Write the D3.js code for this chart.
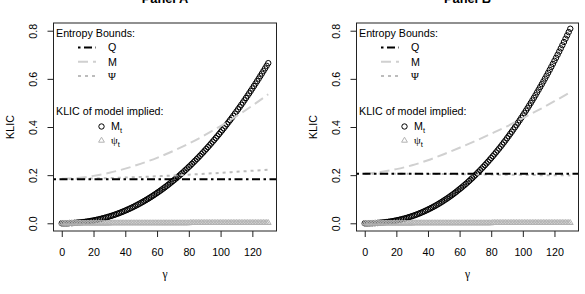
<!DOCTYPE html>
<html><head><meta charset="utf-8">
<script src="https://cdn.jsdelivr.net/npm/d3@7"></script>
<style>body{margin:0;background:#fff}svg{display:block}</style>
</head><body>
<svg id="chart" width="585" height="294"></svg>
<script>
// ---------- data ----------
const gamma = [0,1,2,3,4,5,6,7,8,9,10,11,12,13,14,15,16,17,18,19,20,21,22,23,24,25,26,27,28,29,30,
31,32,33,34,35,36,37,38,39,40,41,42,43,44,45,46,47,48,49,50,51,52,53,54,55,56,57,58,59,60,
61,62,63,64,65,66,67,68,69,70,71,72,73,74,75,76,77,78,79,80,81,82,83,84,85,86,87,88,89,90,
91,92,93,94,95,96,97,98,99,100,101,102,103,104,105,106,107,108,109,110,111,112,113,114,115,116,117,118,119,120,
121,122,123,124,125,126,127,128,129,130];

const klicM_A = [0,0,0,0,0,0.001,0.001,0.001,0.002,0.002,0.003,
0.0033,0.0039,0.0047,0.0055,0.0064,0.0073,0.0084,0.0095,0.0106,0.0119,
0.0132,0.0146,0.0160,0.0176,0.0192,0.0209,0.0226,0.0245,0.0264,0.0284,
0.0305,0.0326,0.0348,0.0372,0.0396,0.0420,0.0446,0.0472,0.0500,0.0528,
0.0556,0.0586,0.0616,0.0647,0.0679,0.0712,0.0746,0.0781,0.0816,0.0853,
0.0890,0.0927,0.0966,0.1005,0.1046,0.1087,0.1130,0.1173,0.1217,0.1262,
0.1307,0.1354,0.1401,0.1449,0.1498,0.1548,0.1599,0.1651,0.1704,0.1758,
0.1812,0.1867,0.1923,0.1980,0.2039,0.2097,0.2157,0.2218,0.2280,0.2342,
0.2405,0.2470,0.2535,0.2601,0.2668,0.2736,0.2804,0.2875,0.2945,0.3017,
0.3090,0.3163,0.3237,0.3313,0.3389,0.3465,0.3543,0.3623,0.3703,0.3784,
0.3865,0.3948,0.4031,0.4117,0.4202,0.4288,0.4376,0.4464,0.4554,0.4644,
0.4735,0.4827,0.4920,0.5014,0.5109,0.5206,0.5303,0.5401,0.5500,0.5600,
0.5701,0.5802,0.5905,0.6009,0.6114,0.6219,0.6326,0.6434,0.6542,0.6652];

const klicM_B = [0,0,0,0.0002,0.0003,0.0005,0.0008,0.0011,0.0015,0.0020,0.0025,
0.0031,0.0037,0.0045,0.0053,0.0062,0.0072,0.0083,0.0094,0.0106,0.0120,
0.0134,0.0148,0.0163,0.0180,0.0197,0.0216,0.0234,0.0255,0.0276,0.0298,
0.0321,0.0344,0.0368,0.0395,0.0422,0.0449,0.0478,0.0507,0.0539,0.0570,
0.0602,0.0636,0.0670,0.0705,0.0741,0.0779,0.0818,0.0858,0.0899,0.0942,
0.0985,0.1027,0.1072,0.1118,0.1165,0.1213,0.1263,0.1314,0.1367,0.1419,
0.1472,0.1527,0.1583,0.1639,0.1697,0.1757,0.1818,0.1879,0.1943,0.2008,
0.2073,0.2138,0.2206,0.2273,0.2345,0.2414,0.2487,0.2560,0.2636,0.2711,
0.2787,0.2865,0.2943,0.3025,0.3106,0.3187,0.3272,0.3358,0.3443,0.3533,
0.3621,0.3713,0.3803,0.3896,0.3989,0.4082,0.4181,0.4279,0.4377,0.4478,
0.4580,0.4682,0.4785,0.4891,0.4996,0.5103,0.5212,0.5321,0.5437,0.5549,
0.5663,0.5778,0.5894,0.6012,0.6131,0.6252,0.6374,0.6497,0.6622,0.6750,
0.6875,0.7003,0.7133,0.7265,0.7398,0.7531,0.7667,0.7804,0.7942,0.8082];

const klicPsi_A = [0,0,0,0,0,0,0,0,0,0,0,
0,0,0,0,0,0,0,0,0,0,
0,0,0,0,0,0,0,0,0,0,
0.001,0.001,0.001,0.001,0.001,0.001,0.001,0.001,0.001,0.001,
0.001,0.001,0.001,0.001,0.001,0.001,0.001,0.001,0.001,0.001,
0.001,0.001,0.001,0.001,0.001,0.001,0.001,0.001,0.001,0.001,
0.001,0.001,0.001,0.001,0.001,0.001,0.001,0.001,0.001,0.001,
0.001,0.001,0.001,0.001,0.001,0.001,0.001,0.001,0.001,0.001,
0.002,0.002,0.002,0.002,0.002,0.002,0.002,0.002,0.002,0.002,
0.002,0.002,0.002,0.002,0.002,0.002,0.002,0.002,0.002,0.002,
0.002,0.002,0.002,0.002,0.002,0.002,0.002,0.002,0.002,0.002,
0.002,0.002,0.002,0.002,0.002,0.002,0.002,0.002,0.002,0.002,
0.002,0.002,0.002,0.002,0.002,0.002,0.002,0.002,0.002,0.002];

const klicPsi_B = [0,0,0,0,0,0,0,0,0,0,0,
0,0,0,0,0,0,0,0,0,0,
0,0,0,0,0,0,0,0,0,0,
0.001,0.001,0.001,0.001,0.001,0.001,0.001,0.001,0.001,0.001,
0.001,0.001,0.001,0.001,0.001,0.001,0.001,0.001,0.001,0.001,
0.001,0.001,0.001,0.001,0.001,0.001,0.001,0.001,0.001,0.001,
0.001,0.001,0.001,0.001,0.001,0.001,0.001,0.001,0.001,0.001,
0.001,0.001,0.001,0.001,0.001,0.001,0.001,0.001,0.001,0.001,
0.002,0.002,0.002,0.002,0.002,0.002,0.002,0.002,0.002,0.002,
0.002,0.002,0.002,0.002,0.002,0.002,0.002,0.002,0.002,0.002,
0.002,0.002,0.002,0.002,0.002,0.002,0.002,0.002,0.002,0.002,
0.002,0.002,0.002,0.002,0.002,0.002,0.002,0.002,0.002,0.002,
0.002,0.002,0.002,0.002,0.002,0.002,0.002,0.002,0.002,0.002];

const lineGamma  = [0,10,20,30,40,50,60,70,80,90,100,110,120,130];
const boundM_A   = [0.185,0.1885,0.197,0.210,0.227,0.248,0.272,0.300,0.331,0.366,0.404,0.445,0.489,0.536];
const boundPsi_A = [0.184,0.1846,0.186,0.1877,0.1899,0.1925,0.1953,0.1985,0.2019,0.2057,0.2096,0.2139,0.2183,0.223];
const boundM_B   = [0.206,0.213,0.225,0.241,0.262,0.287,0.314,0.342,0.372,0.403,0.437,0.471,0.507,0.545];
const boundPsi_B = [0.206,0.206,0.2058,0.2055,0.205,0.2045,0.204,0.203,0.2025,0.2015,0.201,0.200,0.1995,0.199];
const boundQ_A = 0.183;
const boundQ_B = 0.206;

const xTicks = [0,20,40,60,80,100,120];
const yTicks = [0,0.2,0.4,0.6,0.8];
const panelTitles = ["Panel A","Panel B"];

// ---------- drawing ----------
const svg = d3.select("#chart");
svg.append("rect").attr("width",585).attr("height",294).attr("fill","#fff");
const SANS = "'Liberation Sans', Arial, Helvetica, sans-serif";
const SERIF = "'Liberation Serif', 'DejaVu Serif', serif";
const FS = 10.7;

const panels = [
  {title:panelTitles[0], left:53.5, right:276.5, q:boundQ_A, m:boundM_A, psi:boundPsi_A, mt:klicM_A, pt:klicPsi_A, lx:0},
  {title:panelTitles[1], left:356.5, right:578.5, q:boundQ_B, m:boundM_B, psi:boundPsi_B, mt:klicM_B, pt:klicPsi_B, lx:303}
];
const plotTop = 23, plotBottom = 231;

const QDASH = "2.5,3.5,8,3.5", MDASH = "10,5", PDASH = "3,4";
const MCOL = "#d0d0d0", PCOL = "#bcbcbc", TCOL = "#b3b3b3";
const triPath = "M0,-3.3L2.9,1.7L-2.9,1.7Z";

panels.forEach(p => {
  const x = d3.scaleLinear().domain([-5.2,135.2]).range([p.left,p.right]);
  const y = d3.scaleLinear().domain([-0.032,0.832]).range([plotBottom,plotTop]);
  const g = svg.append("g");

  g.append("g").selectAll("circle").data(gamma).join("circle")
    .attr("cx", d => x(d)).attr("cy", (d,i) => y(p.mt[i])).attr("r", 2.7)
    .attr("fill","none").attr("stroke","#000").attr("stroke-width",1);
  g.append("g").selectAll("path").data(gamma).join("path")
    .attr("d", triPath)
    .attr("transform", (d,i) => `translate(${x(d)},${y(p.pt[i])})`)
    .attr("fill","none").attr("stroke",TCOL).attr("stroke-width",1);

  const line = d3.line().x((d,i)=>x(lineGamma[i])).y(d=>y(d)).curve(d3.curveMonotoneX);
  g.append("path").attr("d", line(p.m)).attr("fill","none").attr("stroke",MCOL)
    .attr("stroke-width",2).attr("stroke-dasharray",MDASH);
  g.append("path").attr("d", line(p.psi)).attr("fill","none").attr("stroke",PCOL)
    .attr("stroke-width",2).attr("stroke-dasharray",PDASH);
  g.append("line").attr("x1",p.left).attr("x2",p.right).attr("y1",y(p.q)).attr("y2",y(p.q))
    .attr("stroke","#000").attr("stroke-width",2).attr("stroke-dasharray",QDASH);

  g.append("rect").attr("x",p.left).attr("y",plotTop).attr("width",p.right-p.left).attr("height",plotBottom-plotTop)
    .attr("fill","none").attr("stroke","#222").attr("stroke-width",1);

  const xa = g.append("g").attr("transform",`translate(0,${plotBottom})`)
    .call(d3.axisBottom(x).tickValues(xTicks).tickSize(6).tickFormat(d3.format("d")));
  xa.select(".domain").remove();
  xa.selectAll("line").attr("stroke","#222");
  xa.selectAll("text").attr("y",24.5).attr("dy",0).attr("font-size",FS).attr("font-family",SANS).attr("fill","#000");

  const ya = g.append("g").attr("transform",`translate(${p.left},0)`)
    .call(d3.axisLeft(y).tickValues(yTicks).tickSize(6).tickFormat(d3.format(".1f")));
  ya.select(".domain").remove();
  ya.selectAll("line").attr("stroke","#222");
  ya.selectAll("text").attr("transform","rotate(-90)").attr("x",0).attr("y",-16.5).attr("dy",0)
    .attr("text-anchor","middle").attr("font-size",FS).attr("font-family",SANS).attr("fill","#000");

  const cx = (p.left+p.right)/2, cy = (plotTop+plotBottom)/2;
  g.append("text").attr("x",cx).attr("y",277.5).attr("text-anchor","middle")
    .attr("font-family",SERIF).attr("font-size",11.5).text("γ");
  g.append("text").attr("transform",`translate(${p.left-39.5},${cy}) rotate(-90)`).attr("text-anchor","middle")
    .attr("font-family",SANS).attr("font-size",FS).text("KLIC");
  g.append("text").attr("x",cx).attr("y",3).attr("text-anchor","middle")
    .attr("font-family",SANS).attr("font-weight","bold").attr("font-size",12.8).text(p.title);

  const L = p.lx;
  const lg = g.append("g").attr("font-family",SANS).attr("font-size",FS);
  lg.append("text").attr("x",56+L).attr("y",36.9).text("Entropy Bounds:");
  const rows = [
    {y:47.5, dash:QDASH, col:"#000", lab:"Q", serif:false},
    {y:61.8, dash:MDASH, col:MCOL, lab:"M", serif:false},
    {y:76.0, dash:PDASH, col:PCOL, lab:"Ψ", serif:true}
  ];
  rows.forEach(r => {
    lg.append("line").attr("x1",78+L).attr("x2",96+L).attr("y1",r.y).attr("y2",r.y)
      .attr("stroke",r.col).attr("stroke-width",2).attr("stroke-dasharray",r.dash);
    lg.append("text").attr("x",108+L).attr("y",r.y+3.85)
      .attr("font-family", r.serif ? SERIF : SANS).text(r.lab);
  });
  lg.append("text").attr("x",56+L).attr("y",115).text("KLIC of model implied:");
  lg.append("circle").attr("cx",101.5+L).attr("cy",126.5).attr("r",2.7)
    .attr("fill","none").attr("stroke","#000").attr("stroke-width",1);
  const t1 = lg.append("text").attr("x",111+L).attr("y",130.4);
  t1.append("tspan").text("M");
  t1.append("tspan").attr("dy",2.5).attr("font-size",7.5).text("t");
  lg.append("path").attr("d",triPath).attr("transform",`translate(${101.5+L},140.5)`)
    .attr("fill","none").attr("stroke",TCOL).attr("stroke-width",1);
  const t2 = lg.append("text").attr("x",111+L).attr("y",144.2);
  t2.append("tspan").attr("font-family",SERIF).text("ψ");
  t2.append("tspan").attr("dy",2.5).attr("font-size",7.5).text("t");
});
</script>
</body></html>
